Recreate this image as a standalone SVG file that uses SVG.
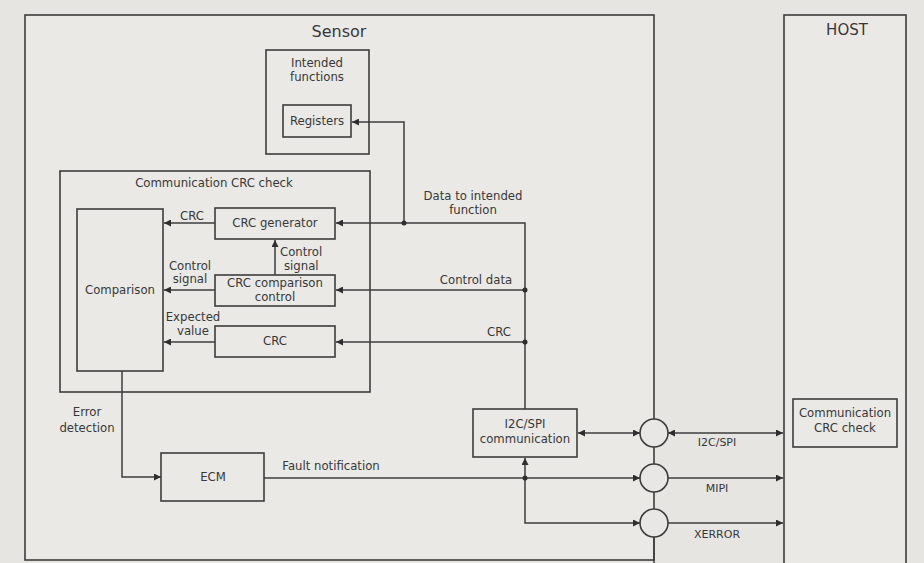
<svg xmlns="http://www.w3.org/2000/svg" width="924" height="563" viewBox="0 0 924 563">
<defs>
<style>
.box{fill:none;stroke:#3c3c3c;stroke-width:1.6}
.ln{fill:none;stroke:#3c3c3c;stroke-width:1.5}
.t{font-family:"DejaVu Sans",Verdana,sans-serif;font-size:11.7px;fill:#383838;text-anchor:middle}
.tl{font-family:"DejaVu Sans",Verdana,sans-serif;font-size:11.7px;fill:#383838}
.ts{font-family:"DejaVu Sans",Verdana,sans-serif;font-size:11px;fill:#383838;text-anchor:middle}
.dot{fill:#2e2e2e}
.circ{fill:#e8e7e3;stroke:#3c3c3c;stroke-width:1.6}
</style>
<marker id="ah" viewBox="0 0 10 10" refX="10" refY="5" markerWidth="7" markerHeight="7" markerUnits="userSpaceOnUse" orient="auto-start-reverse">
<path d="M0,0 L10,5 L0,10 z" fill="#2e2e2e"/>
</marker>
</defs>
<rect width="924" height="563" fill="#e6e5e1"/>
<rect x="25" y="15" width="629" height="545" fill="#eae9e5"/>
<rect x="784" y="15" width="122" height="560" fill="#eae9e5"/>

<g id="connectors">
<path class="ln" d="M404,223 V122 H352" marker-end="url(#ah)"/>
<path class="ln" d="M525,409 V223 H336" marker-end="url(#ah)"/>
<path class="ln" d="M525,290 H336" marker-end="url(#ah)"/>
<path class="ln" d="M525,342 H336" marker-end="url(#ah)"/>
<path class="ln" d="M215,223 H164" marker-end="url(#ah)"/>
<path class="ln" d="M215,290 H164" marker-end="url(#ah)"/>
<path class="ln" d="M215,342 H164" marker-end="url(#ah)"/>
<path class="ln" d="M275,275 V240" marker-end="url(#ah)"/>
<path class="ln" d="M122,371 V477 H161" marker-end="url(#ah)"/>
<path class="ln" d="M264,478 H640" marker-end="url(#ah)"/>
<path class="ln" d="M525,478 V458" marker-end="url(#ah)"/>
<path class="ln" d="M525,478 V523 H640" marker-end="url(#ah)"/>
<path class="ln" d="M578,433 H640" marker-start="url(#ah)" marker-end="url(#ah)"/>
<path class="ln" d="M668,433 H783" marker-start="url(#ah)" marker-end="url(#ah)"/>
<path class="ln" d="M668,478 H783" marker-end="url(#ah)"/>
<path class="ln" d="M668,523 H783" marker-end="url(#ah)"/>
<circle class="dot" cx="404" cy="223" r="2.5"/>
<circle class="dot" cx="525" cy="290" r="2.5"/>
<circle class="dot" cx="525" cy="342" r="2.5"/>
<circle class="dot" cx="525" cy="478" r="2.5"/>
<text class="t" x="473" y="200">Data to intended</text>
<text class="t" x="473" y="214">function</text>
<text class="t" x="476" y="284">Control data</text>
<text class="t" x="499" y="336">CRC</text>
<text class="t" x="192" y="220">CRC</text>
<text class="t" x="190" y="270">Control</text>
<text class="t" x="190" y="283">signal</text>
<text class="t" x="193" y="321">Expected</text>
<text class="t" x="193" y="335">value</text>
<text class="tl" x="280" y="256">Control</text>
<text class="tl" x="284" y="270">signal</text>
<text class="t" x="87" y="416">Error</text>
<text class="t" x="87" y="432">detection</text>
<text class="t" x="331" y="470">Fault notification</text>
<text class="ts" x="717" y="446">I2C/SPI</text>
<text class="ts" x="717" y="492">MIPI</text>
<text class="ts" x="717" y="538">XERROR</text>
</g>

<g id="sensor">
<rect class="box" x="25" y="15" width="629" height="545"/>
<text class="t" x="339" y="37" style="font-size:16px">Sensor</text>
</g>
<g id="intended-functions">
<rect class="box" x="266" y="50" width="103" height="104"/>
<text class="t" x="317" y="67">Intended</text>
<text class="t" x="317" y="81">functions</text>
</g>
<g id="registers">
<rect class="box" x="283" y="105" width="68" height="32"/>
<text class="t" x="317" y="125">Registers</text>
</g>
<g id="comm-crc-check">
<rect class="box" x="60" y="171" width="310" height="221"/>
<text class="t" x="214" y="187">Communication CRC check</text>
</g>
<g id="comparison">
<rect class="box" x="77" y="209" width="86" height="162"/>
<text class="t" x="120" y="294">Comparison</text>
</g>
<g id="crc-generator">
<rect class="box" x="215" y="208" width="120" height="31"/>
<text class="t" x="275" y="227">CRC generator</text>
</g>
<g id="crc-comparison-control">
<rect class="box" x="215" y="275" width="120" height="31"/>
<text class="t" x="275" y="287">CRC comparison</text>
<text class="t" x="275" y="301">control</text>
</g>
<g id="crc">
<rect class="box" x="215" y="326" width="120" height="31"/>
<text class="t" x="275" y="345">CRC</text>
</g>
<g id="ecm">
<rect class="box" x="161" y="453" width="103" height="48"/>
<text class="t" x="213" y="481">ECM</text>
</g>
<g id="i2c-spi-communication">
<rect class="box" x="473" y="409" width="104" height="48"/>
<text class="t" x="525" y="428">I2C/SPI</text>
<text class="t" x="525" y="443">communication</text>
</g>
<g id="pins">
<circle class="circ" cx="654" cy="433" r="14"/>
<circle class="circ" cx="654" cy="478" r="14"/>
<circle class="circ" cx="654" cy="523" r="14"/>
<path class="ln" d="M654,537 V563"/>
</g>
<g id="host">
<rect class="box" x="784" y="15" width="122" height="560"/>
<text class="t" x="847" y="35" style="font-size:15px">HOST</text>
</g>
<g id="host-comm-crc-check">
<rect class="box" x="793" y="399" width="104" height="48"/>
<text class="t" x="845" y="417">Communication</text>
<text class="t" x="845" y="432">CRC check</text>
</g>
</svg>
